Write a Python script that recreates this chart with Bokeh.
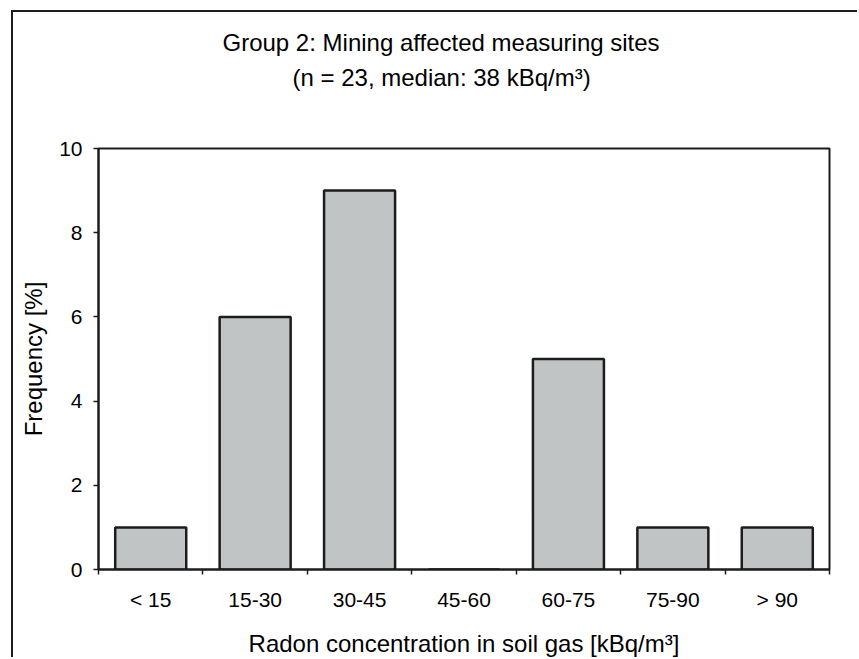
from bokeh.embed import file_html
from bokeh.models import ColumnDataSource, FixedTicker, Range1d, Title
from bokeh.plotting import figure
from bokeh.resources import INLINE

# Radon concentration classes (kBq/m3) and their frequencies
categories = ["< 15", "15-30", "30-45", "45-60", "60-75", "75-90", "> 90"]
frequency = [1, 6, 9, 0, 5, 1, 1]
y_ticks = [0, 2, 4, 6, 8, 10]

title_line1 = "Group 2: Mining affected measuring sites"
title_line2 = "(n = 23, median: 38 kBq/m³)"
x_title = "Radon concentration in soil gas [kBq/m³]"
y_title = "Frequency [%]"

FONT = "Liberation Sans"
INK = "#1c1c1c"

# page geometry: the chart box is framed on its left and top edges
BOX_LEFT, BOX_TOP = 13, 12
FRAME_LEFT, FRAME_RIGHT, FRAME_TOP, FRAME_BOTTOM = 98, 829, 148, 569
PAGE_W, PAGE_H = 859, 659

centers = [i + 0.5 for i in range(len(categories))]
bounds = list(range(len(categories) + 1))
src = ColumnDataSource(dict(x=centers, top=frequency, cat=categories))

p = figure(
    width=PAGE_W - BOX_LEFT, height=PAGE_H - BOX_TOP,
    x_range=Range1d(0, len(categories)), y_range=Range1d(0, 10),
    output_backend="svg", toolbar_location=None,
    min_border_left=FRAME_LEFT - BOX_LEFT, min_border_right=PAGE_W - FRAME_RIGHT,
    min_border_top=FRAME_TOP - BOX_TOP, min_border_bottom=PAGE_H - FRAME_BOTTOM,
)
p.styles = {
    "margin-left": "11px", "margin-top": "10px",
    "border-left": f"2px solid {INK}", "border-top": f"2px solid {INK}",
}
p.background_fill_color = "white"
p.border_fill_color = "white"
p.outline_line_color = INK
p.outline_line_width = 2
p.xgrid.visible = False
p.ygrid.visible = False

p.vbar(x="x", top="top", width=0.68, source=src,
       fill_color="#c0c4c4", line_color=INK, line_width=2.5)

# x axis: labels at class centres, ticks at class boundaries
xa = p.xaxis[0]
xa.ticker = FixedTicker(ticks=centers, minor_ticks=bounds)
xa.major_label_overrides = {c: lab for c, lab in zip(centers, categories)}
xa.major_tick_out = 0
xa.major_tick_in = 0
xa.minor_tick_out = 5
xa.minor_tick_in = 0
xa.minor_tick_line_color = INK
xa.minor_tick_line_width = 1.5
xa.axis_line_color = INK
xa.axis_line_width = 2
xa.major_label_standoff = 13
xa.major_label_text_font = FONT
xa.major_label_text_font_size = "21px"
xa.major_label_text_color = "black"
xa.axis_label = x_title
xa.axis_label_standoff = 16
xa.axis_label_text_font = FONT
xa.axis_label_text_font_size = "24px"
xa.axis_label_text_font_style = "normal"
xa.axis_label_text_color = "black"

ya = p.yaxis[0]
ya.ticker = FixedTicker(ticks=y_ticks)
ya.major_tick_out = 5
ya.major_tick_in = 0
ya.major_tick_line_color = INK
ya.major_tick_line_width = 1.5
ya.minor_tick_out = 0
ya.minor_tick_in = 0
ya.axis_line_color = INK
ya.axis_line_width = 2
ya.major_label_standoff = 11
ya.major_label_text_font = FONT
ya.major_label_text_font_size = "21px"
ya.major_label_text_color = "black"
ya.axis_label = y_title
ya.axis_label_standoff = 9
ya.axis_label_text_font = FONT
ya.axis_label_text_font_size = "24px"
ya.axis_label_text_font_style = "normal"
ya.axis_label_text_color = "black"

# two-line heading; the line added first sits nearest the frame,
# its bottom padding keeps the gap down to the plot area
p.add_layout(Title(text=title_line2, align="left", offset=194, standoff=0,
                   padding=dict(left=0, right=0, top=0, bottom=58),
                   text_font=FONT, text_font_size="24px",
                   text_font_style="normal", text_color="black"), "above")
p.add_layout(Title(text=title_line1, align="left", offset=124, standoff=12,
                   text_font=FONT, text_font_size="24px",
                   text_font_style="normal", text_color="black"), "above")

open("out.html", "w").write(file_html(p, INLINE))
